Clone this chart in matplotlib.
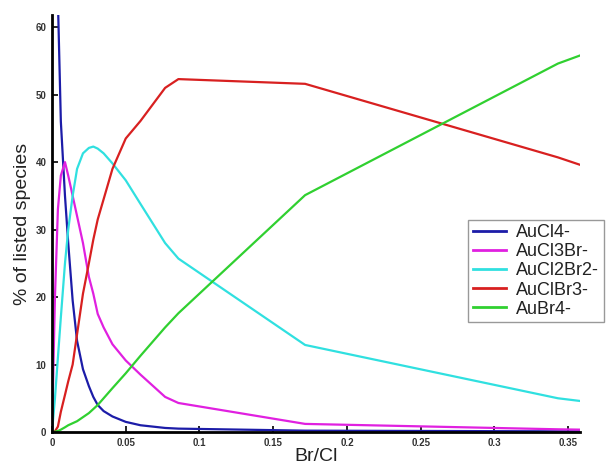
import matplotlib
matplotlib.use("Agg")
import matplotlib.pyplot as plt

x = [0, 0.002, 0.004, 0.006, 0.0088, 0.011, 0.014, 0.017, 0.021, 0.025, 0.028,
     0.031, 0.035, 0.041, 0.050, 0.060, 0.0767, 0.0857, 0.1716, 0.343, 0.358]

aucl4 = [100, 82, 64, 46, 35, 28, 19.5, 13.5, 9.3, 6.8, 5.2,
         4.0, 3.1, 2.3, 1.5, 1.0, 0.6, 0.5, 0.2, 0.1, 0.1]
aucl3br = [0, 20, 33, 38, 40, 38, 35, 32, 28, 23, 20.5,
           17.5, 15.5, 13, 10.6, 8.5, 5.2, 4.3, 1.2, 0.4, 0.35]
aucl2br2 = [0, 5, 11, 17, 25, 30, 35, 39, 41.3, 42.1, 42.3,
            42, 41.3, 39.8, 37.3, 33.8, 28, 25.7, 12.9, 5.0, 4.6]
auclbr3 = [0, 0.1, 0.8, 3.0, 5.5, 7.5, 10, 14.5, 20.5, 25, 28.5,
           31.5, 34.5, 39, 43.5, 46.1, 51.0, 52.3, 51.6, 40.7, 39.6]
aubr4 = [0, 0.05, 0.15, 0.35, 0.7, 1.0, 1.3, 1.6, 2.2, 2.8, 3.4,
         4.0, 5.0, 6.5, 8.7, 11.3, 15.5, 17.6, 35.1, 54.6, 55.8]

labels = ["AuCl4-", "AuCl3Br-", "AuCl2Br2-", "AuClBr3-", "AuBr4-"]
colors = ["#1c1ca8", "#e020e0", "#30e0e0", "#d82020", "#30d030"]
series = [aucl4, aucl3br, aucl2br2, auclbr3, aubr4]

xticks = [0, 0.05, 0.1, 0.15, 0.2, 0.25, 0.3, 0.35]
xticklabels = ["0", "0.05", "0.1", "0.15", "0.2", "0.25", "0.3", "0.35"]
yticks = [0, 10, 20, 30, 40, 50, 60]

plt.rcParams['font.family'] = ['Liberation Sans', 'DejaVu Sans']

fig = plt.figure(figsize=(6.12, 4.66), dpi=100)
ax = fig.add_axes([52/612, 34/466, 528/612, 417/466])

for ys, c, lab in zip(series, colors, labels):
    ax.plot(x, ys, color=c, lw=1.6, label=lab, clip_on=True)

ax.set_xlim(0, 0.358)
ax.set_ylim(0, 61.8)
ax.set_xticks(xticks)
ax.set_xticklabels(xticklabels)
ax.set_yticks(yticks)

for s in ["top", "right"]:
    ax.spines[s].set_visible(False)
for s in ["left", "bottom"]:
    ax.spines[s].set_linewidth(2.0)
    ax.spines[s].set_color("black")

ax.tick_params(direction="in", length=4, width=1.2, labelsize=7, pad=4,
               labelcolor="#333333")
for t in ax.get_xticklabels() + ax.get_yticklabels():
    t.set_fontweight("bold")

ax.set_xlabel("Br/Cl", fontsize=14, color="#222222", labelpad=0)
ax.set_ylabel("% of listed species", fontsize=14, color="#222222", labelpad=3)

leg = fig.legend(loc="upper left", bbox_to_anchor=(468.5/612, 1 - 219.5/466),
                 fontsize=13, frameon=True, fancybox=False, framealpha=1,
                 edgecolor="#999999", handlelength=1.8, handletextpad=0.6,
                 labelspacing=0.12, borderpad=0.25, borderaxespad=0)
leg.get_frame().set_linewidth(1.0)
for l in leg.get_lines():
    l.set_linewidth(2)
for t in leg.get_texts():
    t.set_color("#222222")

fig.savefig("out.png", dpi=100)
